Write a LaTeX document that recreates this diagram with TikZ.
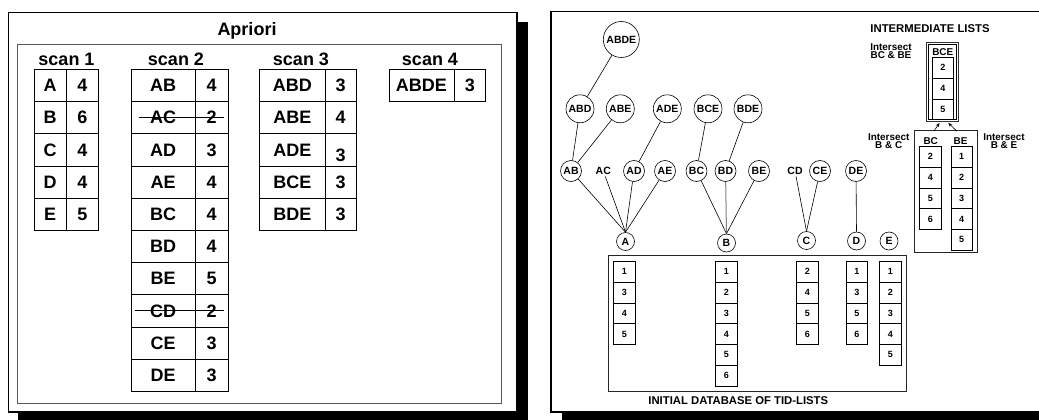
\documentclass[tikz,border=0pt]{standalone}
\usepackage{fontspec}
\setmainfont{Liberation Sans}
\usetikzlibrary{arrows.meta}
\newcommand\fLeft{\fontsize{18}{20}\selectfont\bfseries}
\newcommand\fCirc{\fontsize{10.5}{11}\selectfont\bfseries}
\newcommand\fTid{\fontsize{9}{10}\selectfont\bfseries}
\newcommand\fHead{\fontsize{11.3}{12}\selectfont\bfseries}
\newcommand\fInt{\fontsize{9.9}{10}\selectfont\bfseries}
\begin{document}
\begin{tikzpicture}[x=1pt,y=-1pt,
  frame/.style={draw=black,line width=1.6pt,fill=white},
  shadowbox/.style={fill=black},
  lcell/.style={draw,line width=0.7pt,anchor=north west,minimum height=32.2pt,inner sep=0pt,font=\fLeft},
  ltext/.style={font=\fLeft,inner sep=1pt},
  bigc/.style={draw,circle,line width=0.6pt,inner sep=0pt,minimum size=36pt,font=\fCirc},
  midc/.style={draw,circle,line width=0.6pt,inner sep=0pt,minimum size=28pt,font=\fCirc},
  smc/.style={draw,circle,line width=0.6pt,inner sep=0pt,minimum size=21pt,font=\fCirc},
  plain/.style={inner sep=1.5pt,font=\fCirc},
  letc/.style={draw,circle,line width=0.6pt,inner sep=0pt,minimum size=18pt,font=\fCirc},
  tid/.style={draw,line width=0.6pt,anchor=north west,minimum width=21.5pt,minimum height=20.8pt,inner sep=0pt,font=\fTid},
  link/.style={line width=0.6pt},
  arr/.style={line width=0.6pt,-{Stealth[length=4pt,width=3.5pt]}},
  strike/.style={line width=0.7pt}
]
\useasboundingbox (0,0) rectangle (1039,420);
\clip (0,0) rectangle (1039,420);

% ================= LEFT PANEL =================
\fill[shadowbox] (18,22) rectangle (528,430);
\draw[frame] (8.5,12.5) rectangle (517,412);
\draw[gray!70!black,line width=0.7pt] (17,44.3) rectangle (501,403);
\node[font=\fLeft] (title) at (247,31) {Apriori};
\node[font=\fLeft] (lab1) at (66.5,59) {scan 1};
\node[font=\fLeft] (lab2) at (176,59) {scan 2};
\node[font=\fLeft] (lab3) at (301,59) {scan 3};
\node[font=\fLeft] (lab4) at (430,59) {scan 4};

\foreach \a/\b [count=\i from 0] in {A/4,B/6,C/4,D/4,E/5}{
  \node[lcell,minimum width=31.8pt] (s1a\i) at (33.9,{69+32.2*\i}) {\a};
  \node[lcell,minimum width=32.5pt] (s1b\i) at (65.7,{69+32.2*\i}) {\b};
}
\foreach \a/\b [count=\i from 0] in {AB/4,AC/2,AD/3,AE/4,BC/4,BD/4,BE/5,CD/2,CE/3,DE/3}{
  \node[lcell,minimum width=64.3pt] (s2a\i) at (130.7,{69+32.2*\i}) {\a};
  \node[lcell,minimum width=32.6pt] (s2b\i) at (195,{69+32.2*\i}) {\b};
}
\foreach \a/\b/\s [count=\i from 0] in {ABD/3/0,ABE/4/0,ADE/3/5.5,BCE/3/0,BDE/3/0}{
  \node[lcell,minimum width=65.1pt] (s3a\i) at (259.4,{69+32.2*\i}) {\a};
  \node[lcell,minimum width=31.8pt] (s3b\i) at (324.5,{69+32.2*\i}) {};
  \node[ltext,yshift=-\s pt] (t3b\i) at (s3b\i.center) {\b};
}
\node[lcell,minimum width=65pt] (s4a0) at (388.5,69) {ABDE};
\node[lcell,minimum width=31.9pt] (s4b0) at (453.5,69) {3};

\coordinate (stAC1) at (138.9,117.5);
\coordinate (stAC2) at (223.5,117.5);
\coordinate (stCD1) at (134.8,310.5);
\coordinate (stCD2) at (223.5,310.5);
\draw[strike] (stAC1) -- (stAC2);
\draw[strike] (stCD1) -- (stCD2);

% ================= RIGHT PANEL =================
\fill[shadowbox] (562,22) rectangle (1060,430);
\draw[frame] (551,11.5) rectangle (1050,412);

% lattice
\node[bigc] (ABDE) at (621.3,39.5) {ABDE};
\node[midc] (ABD) at (580,108.8) {ABD};
\node[midc] (ABE) at (620.3,108.8) {ABE};
\node[midc] (ADE) at (667.3,108.8) {ADE};
\node[midc] (BCE) at (708,108.8) {BCE};
\node[midc] (BDE) at (748,108.8) {BDE};

\node[smc] (AB) at (571,171) {AB};
\node[plain] (AC) at (603.3,171) {AC};
\node[smc] (AD) at (634,171) {AD};
\node[smc] (AE) at (665,171) {AE};
\node[smc] (BC) at (696.5,171) {BC};
\node[smc] (BD) at (725.5,171) {BD};
\node[smc] (BE) at (759,171) {BE};
\node[plain] (CD) at (795,171) {CD};
\node[smc] (CE) at (820,171) {CE};
\node[smc] (DE) at (856,171) {DE};

\node[letc] (A) at (625.5,241.5) {A};
\node[letc] (B) at (726.5,243) {B};
\node[letc] (C) at (806.5,240.5) {C};
\node[letc] (D) at (856.5,241) {D};
\node[letc] (E) at (889,241) {E};

\draw[link] (ABDE) -- (ABD);
\draw[link] (ABD) -- (AB);
\draw[link] (ABE) -- (AB);
\draw[link] (ADE) -- (AD);
\draw[link] (BCE) -- (BC);
\draw[link] (BDE) -- (BD);

\draw[link] (AB) -- (A.north);
\draw[link] (AC) -- (A.north);
\draw[link] (AD) -- (A.north);
\draw[link] (AE) -- (A.north);
\draw[link] (BC) -- (B.north);
\draw[link,gray,line width=1pt] (BD) -- (B.north);
\draw[link] (BE) -- (B.north);
\draw[link] (CD) -- (C.north);
\draw[link] (CE) -- (C.north);
\draw[link] (DE) -- (D.north);

% initial database
\draw[gray!30!black,line width=0.8pt] (608.3,255.7) rectangle (906.7,391);
\node[font=\fHead] (dblab) at (738.3,401) {INITIAL DATABASE OF TID-LISTS};
\foreach \v [count=\i from 0] in {1,3,4,5}{
  \node[tid] (ta\i) at (613.3,{261+20.8*\i}) {\v};}
\foreach \v [count=\i from 0] in {1,2,3,4,5,6}{
  \node[tid] (tb\i) at (715.3,{261+20.8*\i}) {\v};}
\foreach \v [count=\i from 0] in {2,4,5,6}{
  \node[tid] (tc\i) at (796.3,{261+20.8*\i}) {\v};}
\foreach \v [count=\i from 0] in {1,3,5,6}{
  \node[tid] (td\i) at (845.7,{261+20.8*\i}) {\v};}
\foreach \v [count=\i from 0] in {1,2,3,4,5}{
  \node[tid] (te\i) at (879.3,{261+20.8*\i}) {\v};}

% intermediate lists
\node[font=\fHead] (intlab) at (930,29) {INTERMEDIATE LISTS};
\node[font=\fInt,align=center] (ibcbe) at (891,51) {Intersect\\[-1.5pt]BC \& BE};
\draw[gray!40!black,line width=0.7pt] (926,42) rectangle (958.7,121.7);
\draw[line width=0.7pt] (928.2,44.2) rectangle (956.5,119.5);
\node[font=\fInt] (bcelab) at (942.7,51.7) {BCE};
\foreach \v [count=\i from 0] in {2,4,5}{
  \node[tid,minimum width=21.6pt,minimum height=20.9pt] (tbce\i) at (931.7,{56.7+20.9*\i}) {\v};}

\draw[gray!30!black,line width=0.8pt] (914,130) rectangle (977.3,252.7);
\node[font=\fInt] (bclab) at (930.7,140.7) {BC};
\node[font=\fInt] (belab) at (960.5,140.7) {BE};
\foreach \v [count=\i from 0] in {2,4,5,6}{
  \node[tid,minimum width=22pt] (tbc\i) at (919,{146+20.8*\i}) {\v};}
\foreach \v [count=\i from 0] in {1,2,3,4,5}{
  \node[tid,minimum width=21pt] (tbe\i) at (950.7,{146+20.8*\i}) {\v};}
\node[font=\fInt,align=center] (ibc) at (888.7,141) {Intersect\\[-1.5pt]B \& C};
\node[font=\fInt,align=center] (ibe) at (1004,141) {Intersect\\[-1.5pt]B \& E};

\coordinate (arBCs) at (934,131);
\coordinate (arBCe) at (939.5,123);
\coordinate (arBEs) at (956.7,131);
\coordinate (arBEe) at (948.3,123);
\draw[arr] (arBCs) -- (arBCe);
\draw[arr] (arBEs) -- (arBEe);
\end{tikzpicture}
\end{document}
